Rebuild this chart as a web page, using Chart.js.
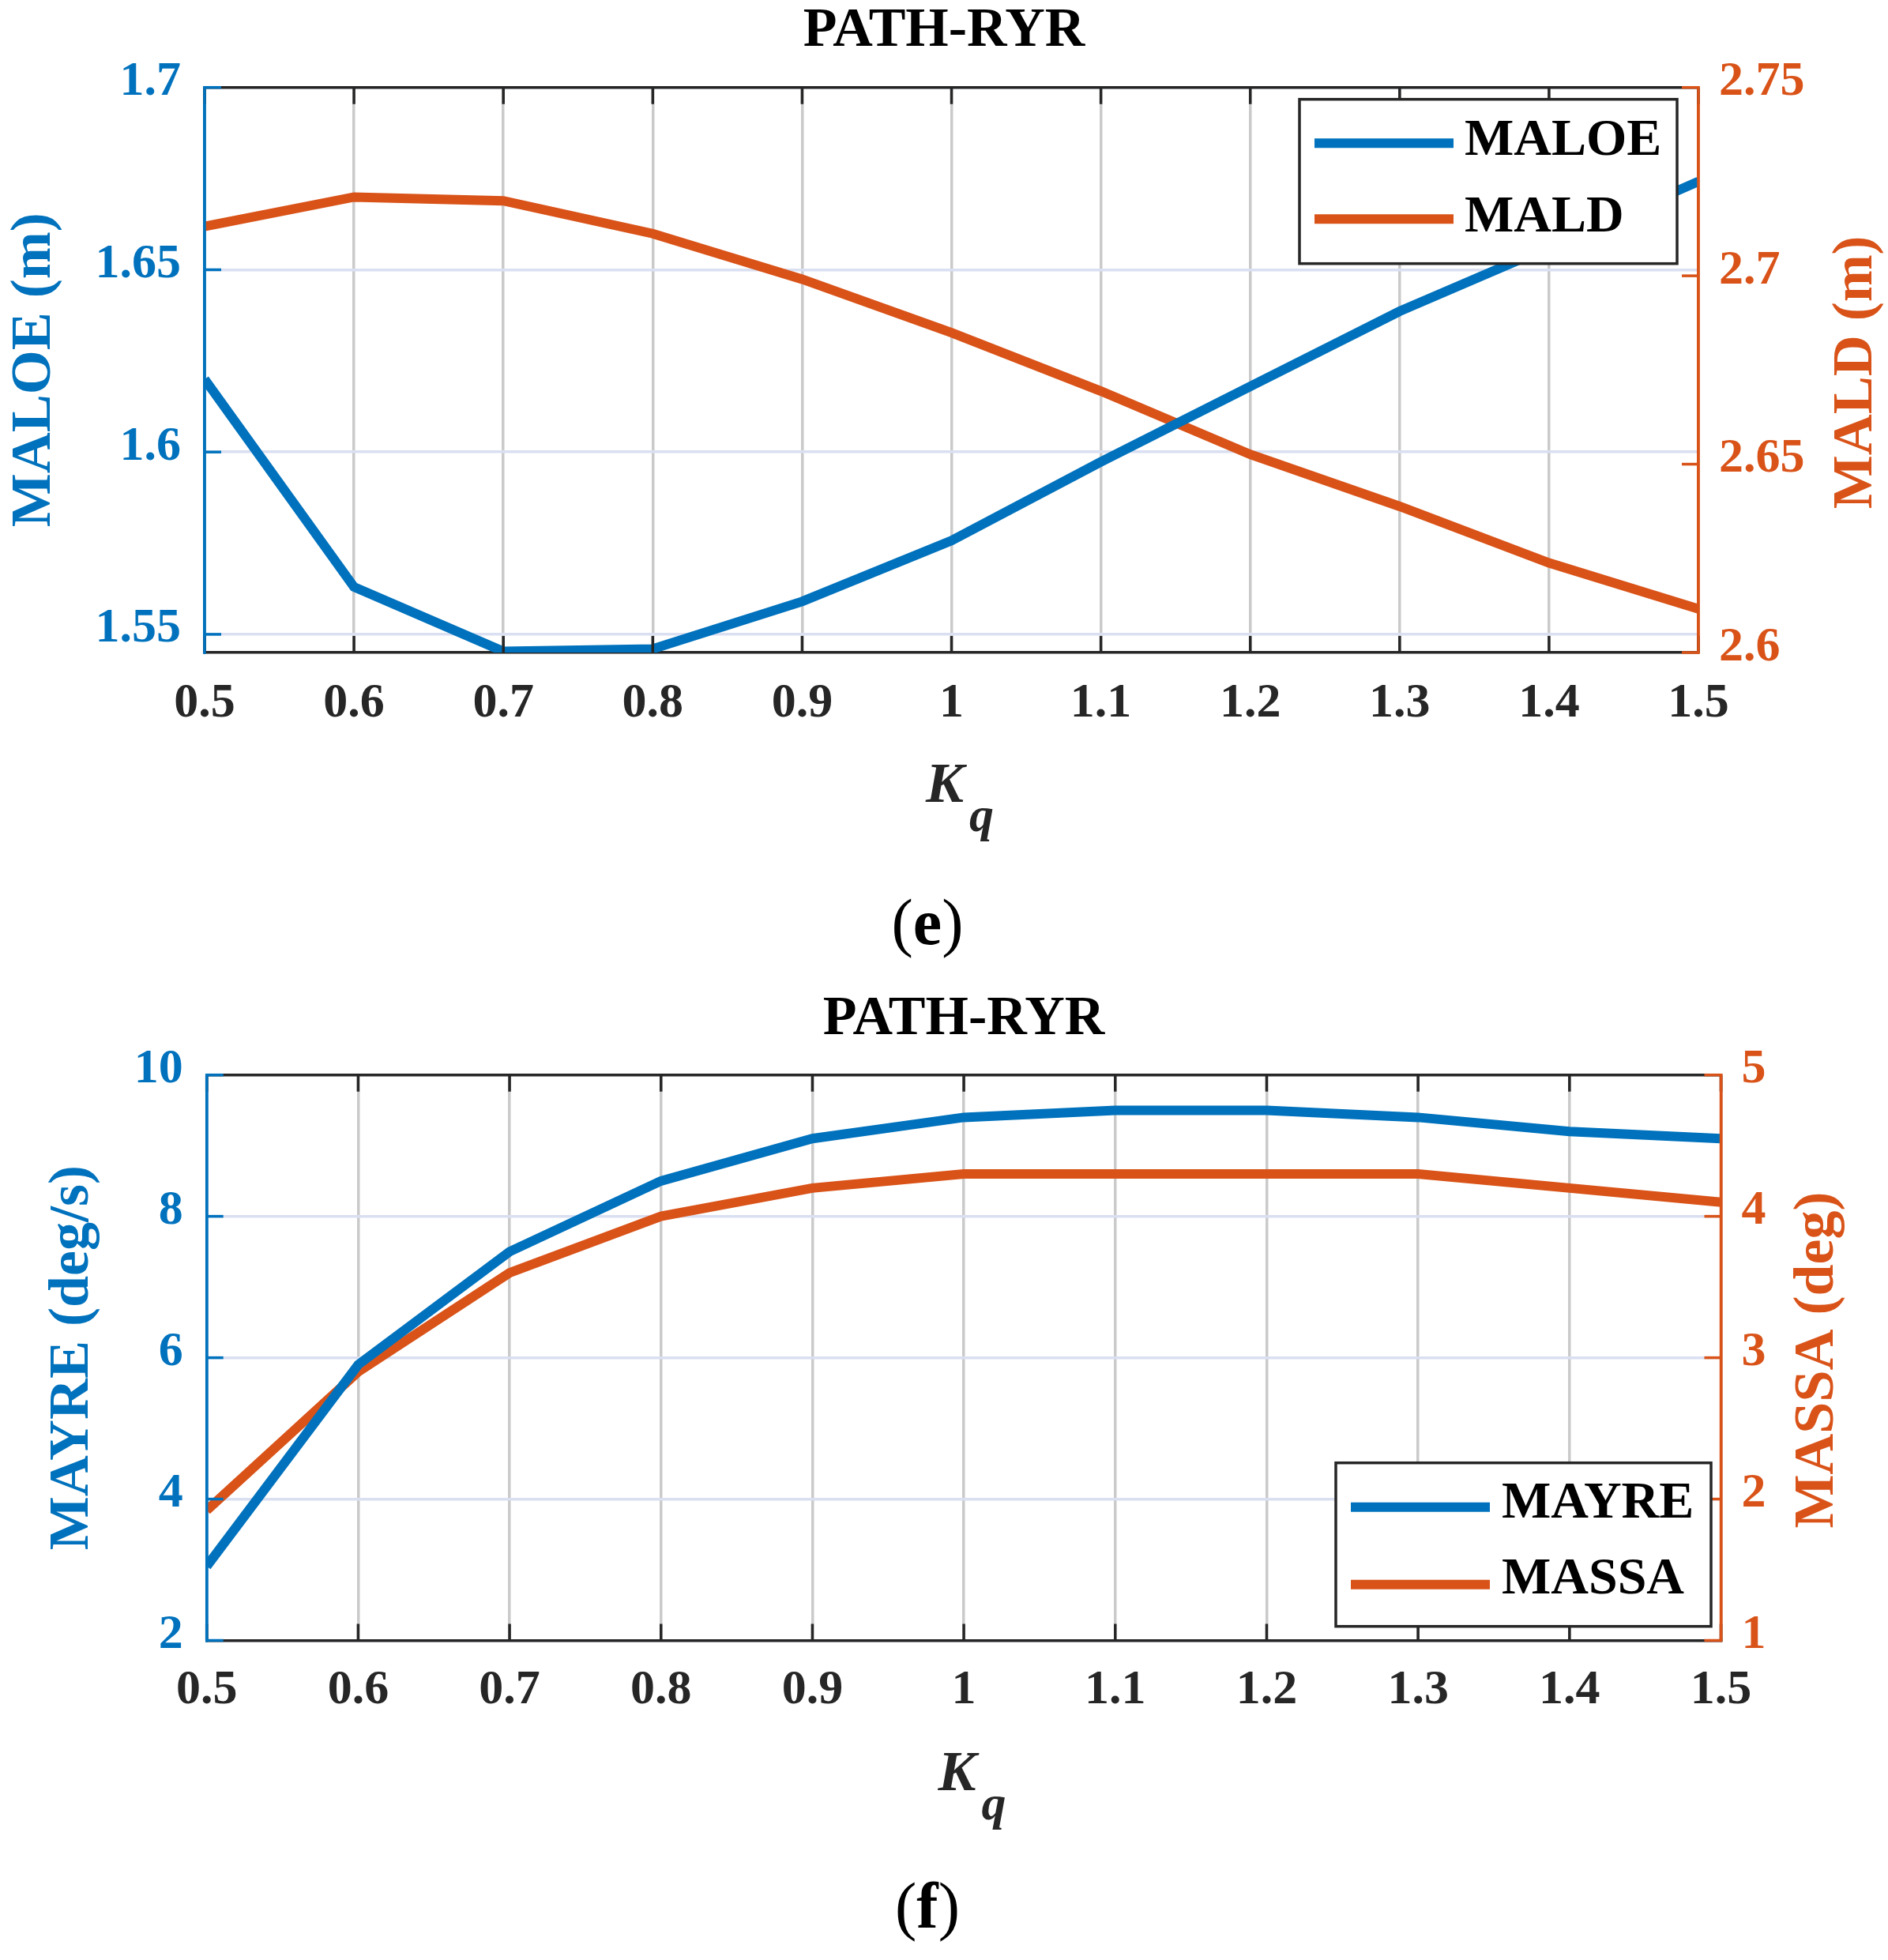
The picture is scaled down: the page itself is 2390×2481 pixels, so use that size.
<!DOCTYPE html>
<html>
<head>
<meta charset="utf-8">
<script src="https://cdn.jsdelivr.net/npm/chart.js@4.4.1/dist/chart.umd.min.js"></script>
<style>
html,body{margin:0;padding:0;background:#fff;overflow:hidden;}
#wrap{position:relative;width:2390px;height:2481px;background:#fff;}
canvas{position:absolute;left:0;}
</style>
</head>
<body>
<div id="wrap">
<canvas id="c1" width="2390" height="1240" style="top:0;width:2390px;height:1240px"></canvas>
<canvas id="c2" width="2390" height="1241" style="top:1240px;width:2390px;height:1241px"></canvas>
</div>
<script>
// ---------------- data ----------------
const kq = [0.5, 0.6, 0.7, 0.8, 0.9, 1.0, 1.1, 1.2, 1.3, 1.4, 1.5];
const xTicks = [0.5, 0.6, 0.7, 0.8, 0.9, 1.0, 1.1, 1.2, 1.3, 1.4, 1.5];
const xTickLabels = ['0.5', '0.6', '0.7', '0.8', '0.9', '1', '1.1', '1.2', '1.3', '1.4', '1.5'];

// panel (e)
const maloe = [1.620, 1.563, 1.5453, 1.546, 1.559, 1.5757, 1.5973, 1.618, 1.6386, 1.6562, 1.6742];
const mald  = [2.7131, 2.7209, 2.7199, 2.7112, 2.6991, 2.6849, 2.6694, 2.6526, 2.6388, 2.6238, 2.6116];
const maloeTicks = [1.55, 1.6, 1.65, 1.7];
const maloeTickLabels = ['1.55', '1.6', '1.65', '1.7'];
const maldTicks = [2.6, 2.65, 2.7, 2.75];
const maldTickLabels = ['2.6', '2.65', '2.7', '2.75'];

// panel (f)
const mayre = [3.05, 5.9, 7.5, 8.5, 9.1, 9.4, 9.5, 9.5, 9.4, 9.2, 9.1];
const massa = [1.92, 2.9, 3.6, 4.0, 4.2, 4.3, 4.3, 4.3, 4.3, 4.2, 4.1];
const mayreTicks = [2, 4, 6, 8, 10];
const mayreTickLabels = ['2', '4', '6', '8', '10'];
const massaTicks = [1, 2, 3, 4, 5];
const massaTickLabels = ['1', '2', '3', '4', '5'];

// ---------------- style ----------------
const FONT = '"Liberation Serif", "Times New Roman", serif';
const BLUE = '#0072BD';
const ORANGE = '#D95319';
const DARK = '#262626';
const GRID_V = 'rgb(202,202,202)';
const GRID_H = 'rgb(218,224,242)';
const AXW = 3.5;
const LINEW = 12;

const matlabAxes = {
  id: 'matlabAxes',
  afterDatasetsDraw(chart, args, o) {
    const ctx = chart.ctx;
    const {left, right, top, bottom} = chart.chartArea;
    const sx = chart.scales.x, sy = chart.scales.y, sy1 = chart.scales.y1;
    const tl = 21;
    ctx.save();
    ctx.lineCap = 'butt';
    ctx.lineWidth = AXW;
    // top border
    ctx.strokeStyle = DARK;
    ctx.beginPath(); ctx.moveTo(left, top); ctx.lineTo(right, top); ctx.stroke();
    // inner x ticks (top and bottom)
    sx.ticks.forEach(t => {
      const p = sx.getPixelForValue(t.value);
      ctx.beginPath();
      ctx.moveTo(p, top); ctx.lineTo(p, top + tl);
      ctx.moveTo(p, bottom); ctx.lineTo(p, bottom - tl);
      ctx.stroke();
    });
    // side borders on top of x ticks
    ctx.strokeStyle = BLUE;
    ctx.beginPath(); ctx.moveTo(left, top - AXW / 2); ctx.lineTo(left, bottom + AXW / 2); ctx.stroke();
    ctx.strokeStyle = ORANGE;
    ctx.beginPath(); ctx.moveTo(right, top - AXW / 2); ctx.lineTo(right, bottom + AXW / 2); ctx.stroke();
    // inner y ticks
    ctx.strokeStyle = BLUE;
    sy.ticks.forEach(t => {
      const p = sy.getPixelForValue(t.value);
      ctx.beginPath(); ctx.moveTo(left, p); ctx.lineTo(left + tl, p); ctx.stroke();
    });
    ctx.strokeStyle = ORANGE;
    sy1.ticks.forEach(t => {
      const p = sy1.getPixelForValue(t.value);
      ctx.beginPath(); ctx.moveTo(right - tl, p); ctx.lineTo(right, p); ctx.stroke();
    });

    // right axis title (reads bottom to top)
    ctx.save();
    ctx.translate(right + o.rightTitleDx, (top + bottom) / 2 + 3);
    ctx.rotate(-Math.PI / 2);
    ctx.font = 'bold 72px ' + FONT;
    ctx.fillStyle = ORANGE;
    ctx.textAlign = 'center';
    ctx.textBaseline = 'middle';
    ctx.fillText(o.rightTitle, 0, 0);
    ctx.restore();

    // x axis title K_q
    const cx = (left + right) / 2 + 4;
    ctx.fillStyle = DARK;
    ctx.textAlign = 'left';
    ctx.textBaseline = 'alphabetic';
    ctx.font = 'italic bold 72px ' + FONT;
    ctx.fillText('K', cx - 36.5, bottom + 189);
    ctx.font = 'italic bold 62px ' + FONT;
    ctx.fillText('q', cx - 36.5 + 55, bottom + 226);

    // panel label
    const parts = [['(', 'normal'], [o.panel, 'bold'], [')', 'normal']];
    let w = 0;
    parts.forEach(p => { ctx.font = p[1] + ' 82px ' + FONT; w += ctx.measureText(p[0]).width; });
    let px = 1174 - w / 2;
    ctx.fillStyle = '#000';
    parts.forEach(p => {
      ctx.font = p[1] + ' 82px ' + FONT;
      ctx.fillText(p[0], px, bottom + o.panelDy);
      px += ctx.measureText(p[0]).width;
    });

    // legend box
    const lg = o.legend;
    const bx = right - lg.rightGap - lg.w;
    const by = lg.fromBottom != null ? bottom - lg.fromBottom - lg.h : top + lg.fromTop;
    ctx.fillStyle = '#fff';
    ctx.fillRect(bx, by, lg.w, lg.h);
    ctx.strokeStyle = DARK;
    ctx.lineWidth = AXW;
    ctx.strokeRect(bx, by, lg.w, lg.h);
    chart.data.datasets.forEach((ds, i) => {
      ctx.strokeStyle = ds.borderColor;
      ctx.lineWidth = ds.borderWidth;
      ctx.beginPath();
      ctx.moveTo(bx + 19, by + lg.rowY[i]);
      ctx.lineTo(bx + 195, by + lg.rowY[i]);
      ctx.stroke();
      ctx.fillStyle = '#000';
      ctx.font = 'bold 66px ' + FONT;
      ctx.textAlign = 'left';
      ctx.textBaseline = 'alphabetic';
      ctx.fillText(ds.label, bx + lg.textX, by + lg.baseY[i]);
    });
    ctx.restore();
  }
};

function makeChart(id, s) {
  const ctx = document.getElementById(id).getContext('2d');
  const setTicks = (vals) => (scale) => { scale.ticks = vals.map(v => ({value: v})); };
  const labelFrom = (vals, labels, shift) => (value) => {
    const i = vals.findIndex(v => Math.abs(v - value) < 1e-9);
    const t = i >= 0 ? labels[i] : '';
    return shift ? [t, ''] : t;
  };
  return new Chart(ctx, {
    type: 'line',
    data: {
      datasets: [
        {label: s.names[0], data: kq.map((x, i) => ({x: x, y: s.left[i]})), yAxisID: 'y',
         borderColor: BLUE, backgroundColor: BLUE, borderWidth: LINEW, pointRadius: 0, tension: 0, fill: false, clip: 0},
        {label: s.names[1], data: kq.map((x, i) => ({x: x, y: s.right[i]})), yAxisID: 'y1',
         borderColor: ORANGE, backgroundColor: ORANGE, borderWidth: LINEW, pointRadius: 0, tension: 0, fill: false, clip: 0}
      ]
    },
    options: {
      responsive: false,
      animation: false,
      devicePixelRatio: 1,
      layout: {padding: 0},
      plugins: {
        legend: {display: false},
        tooltip: {enabled: false},
        title: {
          display: true, text: 'PATH-RYR', color: '#000', fullSize: s.titleFull,
          font: {family: FONT, size: 70, weight: 'bold', lineHeight: 1.14},
          padding: {top: s.titlePadTop, bottom: s.titlePadBottom}
        },
        matlabAxes: {
          rightTitle: s.rightTitle, rightTitleDx: s.rightTitleDx,
          panel: s.panel, panelDy: s.panelDy, legend: s.legend
        }
      },
      scales: {
        x: {
          type: 'linear', position: 'bottom', min: 0.5, max: 1.5,
          afterBuildTicks: setTicks(xTicks),
          afterFit: (sc) => { sc.height = s.xH; },
          grid: {display: true, color: GRID_V, lineWidth: 3.5, drawTicks: false},
          border: {display: true, color: DARK, width: AXW},
          ticks: {color: DARK, padding: s.xPad, maxRotation: 0, autoSkip: false,
                  font: {family: FONT, size: 62, weight: 'bold'},
                  callback: labelFrom(xTicks, xTickLabels, false)}
        },
        y: {
          type: 'linear', position: 'left', min: s.leftMin, max: s.leftMax,
          afterBuildTicks: setTicks(s.leftTicks),
          afterFit: (sc) => { sc.width = s.leftW; },
          grid: {display: true, color: GRID_H, lineWidth: 3.5, drawTicks: false},
          border: {display: true, color: BLUE, width: AXW},
          title: {display: true, text: s.leftTitle, color: BLUE,
                  font: {family: FONT, size: 72, weight: 'bold', lineHeight: 1.2},
                  padding: {top: s.leftTitlePad, bottom: 0}},
          ticks: {color: BLUE, padding: 30, autoSkip: false,
                  font: {family: FONT, size: 62, weight: 'bold', lineHeight: 0.21},
                  callback: labelFrom(s.leftTicks, s.leftLabels, true)}
        },
        y1: {
          type: 'linear', position: 'right', min: s.rightMin, max: s.rightMax,
          afterBuildTicks: setTicks(s.rightTicks),
          afterFit: (sc) => { sc.width = s.rightW; },
          grid: {display: false, drawTicks: false, drawOnChartArea: false},
          border: {display: true, color: ORANGE, width: AXW},
          ticks: {color: ORANGE, padding: 26, autoSkip: false,
                  font: {family: FONT, size: 62, weight: 'bold', lineHeight: 0.21},
                  callback: labelFrom(s.rightTicks, s.rightLabels, true)}
        }
      }
    },
    plugins: [matlabAxes]
  });
}

makeChart('c1', {
  names: ['MALOE', 'MALD'], left: maloe, right: mald,
  leftMin: 1.545, leftMax: 1.7, leftTicks: maloeTicks, leftLabels: maloeTickLabels,
  rightMin: 2.6, rightMax: 2.75, rightTicks: maldTicks, rightLabels: maldTickLabels,
  leftTitle: 'MALOE (m)', leftTitlePad: 1.5, rightTitle: 'MALD (m)', rightTitleDx: 200,
  titleFull: true, titlePadTop: 0, titlePadBottom: 30.9,
  leftW: 259, rightW: 240, xH: 414, xPad: 28,
  panel: 'e', panelDy: 369,
  legend: {rightGap: 27, fromTop: 15, w: 478, h: 208, rowY: [55.5, 151.5], textX: 209, baseY: [70.5, 167]}
});

makeChart('c2', {
  names: ['MAYRE', 'MASSA'], left: mayre, right: massa,
  leftMin: 2, leftMax: 10, leftTicks: mayreTicks, leftLabels: mayreTickLabels,
  rightMin: 1, rightMax: 5, rightTicks: massaTicks, rightLabels: massaTickLabels,
  leftTitle: 'MAYRE (deg/s)', leftTitlePad: 49, rightTitle: 'MASSA (deg)', rightTitleDx: 122.5,
  titleFull: false, titlePadTop: 10.6, titlePadBottom: 30.3,
  leftW: 261.7, rightW: 211.5, xH: 404.5, xPad: 26.5,
  panel: 'f', panelDy: 363.5,
  legend: {rightGap: 12.5, fromBottom: 17.8, w: 475, h: 207, rowY: [56, 154], textX: 210, baseY: [69, 165]}
});
</script>
</body>
</html>
